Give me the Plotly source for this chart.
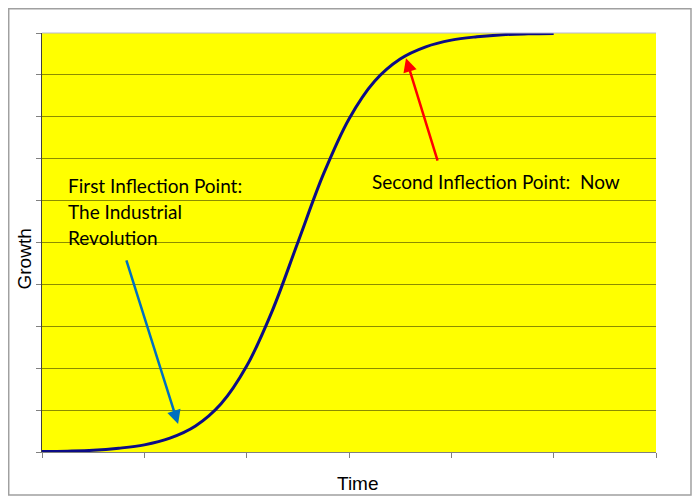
import plotly.graph_objects as go

# Data
time_x = [0, 0.25, 0.5, 0.75, 1.0, 1.25, 1.5, 1.75, 2.0, 2.25, 2.5,
          2.75, 3.0, 3.25, 3.5, 3.75, 4.0, 4.25, 4.5, 4.75, 5.0]
growth_y = [0.01, 0.02, 0.04, 0.09, 0.17, 0.33, 0.62, 1.15, 2.05, 3.37, 5.0,
            6.63, 7.95, 8.85, 9.38, 9.67, 9.83, 9.91, 9.96, 9.98, 9.99]

x_title = "Time"
y_title = "Growth"
first_label_lines = ["First Inflection Point:", "The Industrial", "Revolution"]
second_label = "Second Inflection Point:  Now"

TXT_FONT = "Lato, 'Open Sans', sans-serif"
AX_FONT = "Liberation Sans, Arial, sans-serif"

fig = go.Figure()
fig.add_trace(go.Scatter(
    x=time_x, y=growth_y, mode="lines",
    line=dict(color="#0c0c86", width=3, shape="spline", smoothing=1.0),
    hoverinfo="skip", showlegend=False,
))

fig.update_layout(
    width=692, height=496,
    margin=dict(l=34, r=44, t=25, b=52, autoexpand=False),
    paper_bgcolor="white",
    plot_bgcolor="#ffff00",
    showlegend=False,
    xaxis=dict(
        range=[0, 6], dtick=1, tick0=0, showticklabels=False,
        showgrid=False, zeroline=False, automargin=False,
        ticks="outside", ticklen=5, tickcolor="#808080", tickwidth=1,
        showline=True, linecolor="#808080", linewidth=1,
    ),
    yaxis=dict(
        range=[0, 10], dtick=1, tick0=0, showticklabels=False,
        showgrid=True, gridcolor="rgba(0,0,0,0.45)", gridwidth=1,
        zeroline=False, automargin=False,
        ticks="outside", ticklen=5, tickcolor="#808080", tickwidth=1,
        showline=True, linecolor="#404040", linewidth=1,
    ),
)

# axis titles
fig.add_annotation(x=0.5147, y=-0.074, xref="paper", yref="paper", text=x_title,
                   showarrow=False, xanchor="center", yanchor="middle",
                   font=dict(family=AX_FONT, size=19, color="black"))
fig.add_annotation(x=-0.0285, y=0.4606, xref="paper", yref="paper", text=y_title,
                   showarrow=False, xanchor="center", yanchor="middle", textangle=-90,
                   font=dict(family=AX_FONT, size=19, color="black"))

# top border line of plot area
fig.add_shape(type="line", xref="paper", yref="paper", x0=0, x1=1, y0=1, y1=1,
              line=dict(color="#b8b8d0", width=1))
# outer frame
fig.add_shape(type="rect", xref="paper", yref="paper",
              x0=-0.0542, x1=1.057, y0=-0.1026, y1=1.0579,
              line=dict(color="#a0a0a0", width=1.5), layer="below")

# text annotations
first_y = [6.35, 5.73, 5.13]
for txt, yy in zip(first_label_lines, first_y):
    fig.add_annotation(x=0.235, y=yy, xref="x", yref="y", text=txt,
                       showarrow=False, xanchor="left", yanchor="middle", align="left",
                       font=dict(family=TXT_FONT, size=19, color="black"))
fig.add_annotation(x=3.205, y=6.45, xref="x", yref="y", text=second_label,
                   showarrow=False, xanchor="left", yanchor="middle", align="left",
                   font=dict(family=TXT_FONT, size=19, color="black"))

# arrows
fig.add_annotation(x=1.33, y=0.67, ax=0.82, ay=4.61, xref="x", yref="y",
                   axref="x", ayref="y", text="", showarrow=True,
                   arrowhead=2, arrowsize=1.1, arrowwidth=2.5, arrowcolor="#0070c0")
fig.add_annotation(x=3.557, y=9.40, ax=3.87, ay=6.92, xref="x", yref="y",
                   axref="x", ayref="y", text="", showarrow=True,
                   arrowhead=2, arrowsize=1.1, arrowwidth=2.5, arrowcolor="#ff0000")

fig.write_html("out.html")
